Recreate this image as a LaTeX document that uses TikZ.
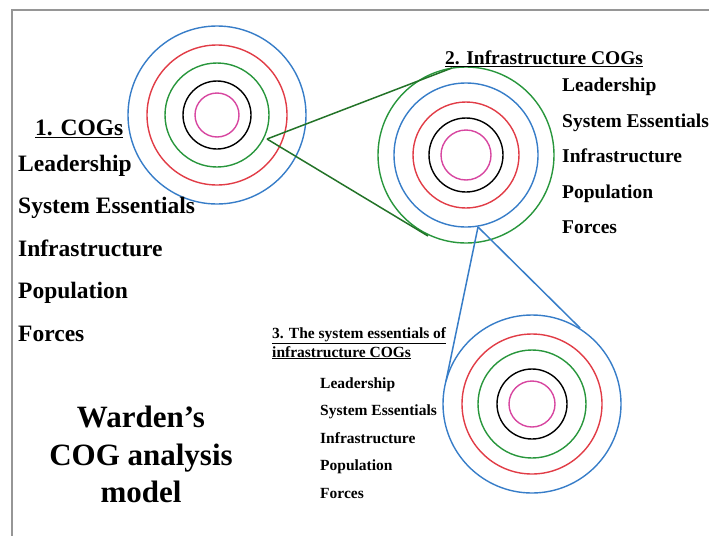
\documentclass[tikz,border=0pt]{standalone}
\usepackage{fontspec}
\setmainfont{Liberation Serif}
\usetikzlibrary{calc}
\definecolor{ringblue}{RGB}{55,125,200}
\definecolor{ringred}{RGB}{225,60,70}
\definecolor{ringgreen}{RGB}{40,150,60}
\definecolor{ringpink}{RGB}{215,70,160}
\definecolor{linkgreen}{RGB}{35,115,40}
\definecolor{framegray}{RGB}{150,150,150}

\begin{document}
\begin{tikzpicture}[x=1pt,y=-1pt,
  ring/.style={line width=1.4pt},
  link/.style={line width=1.5pt},
  bigtxt/.style={anchor=base west,inner sep=0pt,font=\fontsize{23.5}{28}\selectfont\bfseries},
  midtxt/.style={anchor=base west,inner sep=0pt,font=\fontsize{19.5}{23}\selectfont\bfseries},
  smalltxt/.style={anchor=base west,inner sep=0pt,font=\fontsize{15.5}{18}\selectfont\bfseries}]
\useasboundingbox (0,0) rectangle (709,536);
\draw[framegray, line width=2pt] (11,10) -- (709,10);
\draw[framegray, line width=2pt] (12,10) -- (12,536);
\coordinate (cogA) at (217,115);
\coordinate (cogB) at (466,155);
\coordinate (cogC) at (532,404);
\draw[ring,ringblue] (cogA) circle (89pt);
\draw[ring,ringred] (cogA) circle (70pt);
\draw[ring,ringgreen] (cogA) circle (52pt);
\draw[ring,black] (cogA) circle (34pt);
\draw[ring,ringpink] (cogA) circle (22pt);
\draw[ring,ringgreen] (cogB) circle (88pt);
\draw[ring,ringblue] (cogB) circle (72pt);
\draw[ring,ringred] (cogB) circle (53pt);
\draw[ring,black] (cogB) circle (37pt);
\draw[ring,ringpink] (cogB) circle (25pt);
\draw[ring,ringblue] (cogC) circle (89pt);
\draw[ring,ringred] (cogC) circle (70pt);
\draw[ring,ringgreen] (cogC) circle (54pt);
\draw[ring,black] (cogC) circle (35pt);
\draw[ring,ringpink] (cogC) circle (23pt);
\coordinate (gA) at (267,139);
\coordinate (gB) at (452,68);
\coordinate (gC) at (428,236);
\coordinate (bA) at (478,227);
\coordinate (bB) at (446,381);
\coordinate (bC) at (580,328);
\draw[link,linkgreen] (gA) -- (gB);
\draw[link,linkgreen] (gA) -- (gC);
\draw[link,ringblue] (bA) -- (bB);
\draw[link,ringblue] (bA) -- (bC);
\node[bigtxt] (cogs) at (35,135) {\underline{1. COGs}};
\node[bigtxt] (leadA) at (18,171) {Leadership};
\node[bigtxt] (sysA) at (18,213.5) {System Essentials};
\node[bigtxt] (infA) at (18,256) {Infrastructure};
\node[bigtxt] (popA) at (18,298.5) {Population};
\node[bigtxt] (forA) at (18,341) {Forces};
\node[midtxt] (infcogs) at (445,64.5) {\underline{2. Infrastructure COGs}};
\node[midtxt] (leadB) at (562,91.5) {Leadership};
\node[midtxt] (sysB) at (562,127) {System Essentials};
\node[midtxt] (infB) at (562,162.5) {Infrastructure};
\node[midtxt] (popB) at (562,198) {Population};
\node[midtxt] (forB) at (562,233.5) {Forces};
\node[smalltxt] (sysess) at (272,338) {\underline{3. The system essentials of}};
\node[smalltxt] (sysess2) at (272,357) {\underline{infrastructure COGs}};
\node[smalltxt] (leadC) at (320,388) {Leadership};
\node[smalltxt] (sysC) at (320,415.5) {System Essentials};
\node[smalltxt] (infC) at (320,443) {Infrastructure};
\node[smalltxt] (popC) at (320,470.5) {Population};
\node[smalltxt] (forC) at (320,498) {Forces};
\node[anchor=north,inner sep=0pt,align=center,font=\fontsize{31}{37.5}\selectfont\bfseries] (warden) at (141,406) {Warden’s\\COG analysis\\model};
\end{tikzpicture}
\end{document}
